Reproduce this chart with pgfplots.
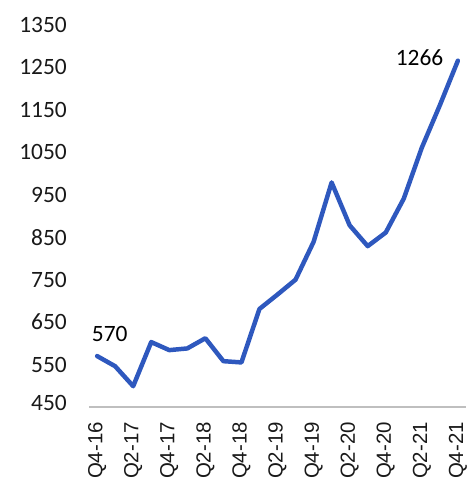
\documentclass[border=0pt]{standalone}
\usepackage{pgfplots}
\pgfplotsset{compat=1.18}
\usepackage{fontspec}
\setmainfont{Carlito}
\newfontfamily\arialf{Liberation Sans}
\definecolor{lineblue}{RGB}{46,88,190}
\definecolor{axgray}{RGB}{191,191,191}
\definecolor{txt}{RGB}{25,25,25}
\pgfplotstableread{
x y
0 570
1 546
2 499
3 603
4 584
5 588
6 612
7 558
8 555
9 681
10 715
11 750
12 839
13 979
14 878
15 829
16 861
17 941
18 1061
19 1161
20 1266
}\datatable
\begin{document}
\begin{tikzpicture}
\begin{axis}[
  scale only axis,
  width=377bp, height=382bp,
  xmin=-0.45, xmax=20.45,
  ymin=450, ymax=1350,
  ytick={450,550,...,1350},
  yticklabel={\ifnum\ticknum=0 \raisebox{9bp}{\pgfmathprintnumber{\tick}}\else\pgfmathprintnumber{\tick}\fi},
  xtick={0,2,...,20},
  xticklabels={Q4-16,Q2-17,Q4-17,Q2-18,Q4-18,Q2-19,Q4-19,Q2-20,Q4-20,Q2-21,Q4-21},
  x tick label style={rotate=90, anchor=east, font=\arialf\fontsize{20.5}{22}\selectfont, text=txt, inner sep=0pt},
  xticklabel shift=15bp,
  y tick label style={font=\fontsize{23.5}{25}\selectfont, text=txt, inner sep=0pt},
  yticklabel shift=22bp,
  /pgf/number format/assume math mode=true,
  /pgf/number format/1000 sep={},
  axis y line*=left,
  axis x line*=bottom,
  axis line style={-},
  x axis line style={axgray, line width=1.2pt},
  y axis line style={draw=none},
  major tick length=0pt,
  clip=false,
]
\addplot[lineblue, line width=4.5pt, line join=round, line cap=round] table[x=x,y=y] {\datatable};
\node[anchor=south west, font=\fontsize{23.5}{25}\selectfont, inner sep=0pt] at (axis cs:-0.3,604) {570};
\node[anchor=south east, font=\fontsize{23.5}{25}\selectfont, inner sep=0pt] at (axis cs:19.2,1253) {1266};
\end{axis}
\pgfresetboundingbox
\path ([shift={(-89bp,-77bp)}]current axis.south west) rectangle ([shift={(5bp,25bp)}]current axis.north east);
\end{tikzpicture}
\end{document}
